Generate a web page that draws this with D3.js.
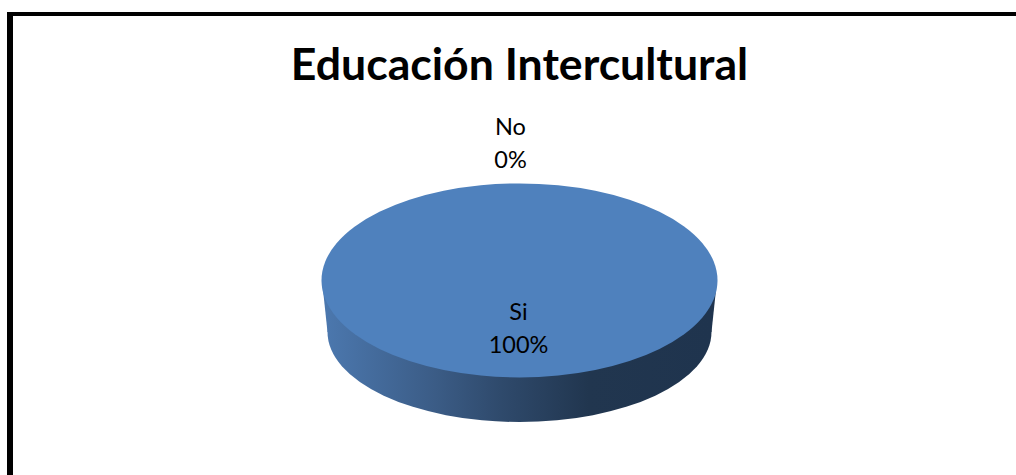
<!DOCTYPE html>
<html>
<head>
<meta charset="utf-8">
<script src="https://cdn.jsdelivr.net/npm/d3@7"></script>
<style>
  html, body { margin: 0; padding: 0; background: #fff; overflow: hidden; }
  text { font-family: Lato, "Open Sans", sans-serif; fill: #000; }
</style>
</head>
<body>
<script>
// Chart data
var titleText = "Educación Intercultural";
var categories = ["Si", "No"];
var percents = [100, 0];

var w = 1016;
var h = 475;

// Pie geometry: top face and the smaller bottom face of the 3D disc
var topFace = { cx: 519.5, cy: 280.4, rx: 198, ry: 97 };
var bottomFace = { cx: 519.5, cy: 332, rx: 192, ry: 90 };

var svg = d3.select("body")
    .append("svg")
    .attr("width", w)
    .attr("height", h)
    .style("display", "block");

// Side gradient of the 3D pie, one copy per coordinate system
var defs = svg.append("defs");
function sideGradient(id, x1, x2) {
    var grad = defs.append("linearGradient")
        .attr("id", id)
        .attr("gradientUnits", "userSpaceOnUse")
        .attr("x1", x1)
        .attr("x2", x2)
        .attr("y1", 0)
        .attr("y2", 0);
    [[0, "#4b77ad"], [0.28, "#3b5c86"], [0.45, "#2f4a6c"], [0.68, "#21364f"], [1, "#1f344e"]]
        .forEach(function(s) {
            grad.append("stop").attr("offset", s[0]).attr("stop-color", s[1]);
        });
}
sideGradient("sideDisc", -1, 1);
sideGradient("sideWall", bottomFace.cx - bottomFace.rx, bottomFace.cx + bottomFace.rx);

// Frame, only top and left fall inside the picture
svg.append("path")
    .attr("d", d3.line()([[10, 14], [w, 14]]))
    .attr("stroke", "#000")
    .attr("stroke-width", 4);
svg.append("path")
    .attr("d", d3.line()([[10, 12], [10, h]]))
    .attr("stroke", "#000")
    .attr("stroke-width", 6);

svg.append("text")
    .attr("x", 519.5)
    .attr("y", 79.5)
    .attr("text-anchor", "middle")
    .attr("font-size", 44.6)
    .attr("font-weight", 700)
    .text(titleText);

// Pie layout, drawn on a unit radius and stretched to each face
var slices = d3.pie().sort(null)(percents);
var arc = d3.arc().innerRadius(0).outerRadius(1);

function drawFace(face, fill) {
    svg.append("g")
        .attr("transform", "translate(" + face.cx + "," + face.cy + ") scale(" + face.rx + "," + face.ry + ")")
        .selectAll("path")
        .data(slices)
        .enter()
        .append("path")
        .attr("d", arc)
        .attr("fill", fill);
}

// Bottom disc and the wall up to the top face
drawFace(bottomFace, "url(#sideDisc)");
svg.append("path")
    .attr("d", d3.line()([
        [topFace.cx - topFace.rx + 0.5, topFace.cy],
        [bottomFace.cx - bottomFace.rx, bottomFace.cy],
        [bottomFace.cx + bottomFace.rx, bottomFace.cy],
        [topFace.cx + topFace.rx - 0.5, topFace.cy]
    ]) + "Z")
    .attr("fill", "url(#sideWall)");

drawFace(topFace, "#4f81bd");

// Data labels
var labelPos = [[518.5, 320], [510.5, 135]];
var labels = svg.selectAll(".lab")
    .data(categories)
    .enter()
    .append("text")
    .attr("class", "lab")
    .attr("text-anchor", "middle")
    .attr("font-size", 23.5)
    .attr("transform", function(d, i) {
        return "translate(" + labelPos[i][0] + "," + labelPos[i][1] + ")";
    });
labels.append("tspan")
    .attr("x", 0)
    .attr("y", 0)
    .text(function(d) { return d; });
labels.append("tspan")
    .attr("x", 0)
    .attr("y", 33)
    .text(function(d, i) { return percents[i] + "%"; });
</script>
</body>
</html>
